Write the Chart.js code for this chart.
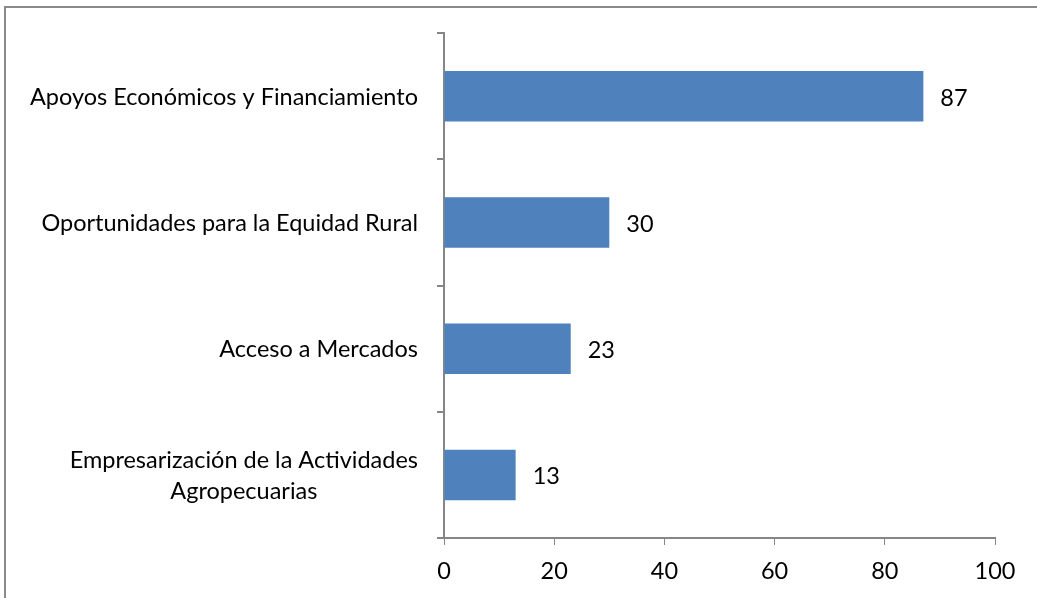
<!DOCTYPE html>
<html>
<head>
<meta charset="utf-8">
<script src="https://cdn.jsdelivr.net/npm/chart.js@4/dist/chart.umd.min.js"></script>
<style>
html,body{margin:0;padding:0;overflow:hidden;background:#fff;}
#wrap{position:relative;width:1037px;height:598px;}
#frame{position:absolute;left:4px;top:6px;width:1200px;height:800px;border:2px solid #8a8a8a;box-sizing:border-box;}
canvas{position:absolute;left:0;top:0;}
</style>
</head>
<body>
<div id="wrap">
<div id="frame"></div>
<canvas id="c" width="1037" height="598"></canvas>
</div>
<script>
const categories = [
  ["Apoyos Económicos y Financiamiento"],
  ["Oportunidades para la Equidad Rural"],
  ["Acceso a Mercados"],
  ["Empresarización de la Actividades", "Agropecuarias"]
];
const values = [87, 30, 23, 13];
const xTicks = [0, 20, 40, 60, 80, 100];

const FONT = "Lato, 'Open Sans', sans-serif";
const FSIZE = 23.5;
const AXIS = '#868686';
const TICKLEN = 7;

const labelPlugin = {
  id: 'labels',
  afterDraw(chart) {
    const ctx = chart.ctx;
    const y = chart.scales.y;
    const area = chart.chartArea;
    const meta = chart.getDatasetMeta(0);
    ctx.save();
    // extend the value axis line left to meet the category ticks
    ctx.strokeStyle = AXIS;
    ctx.lineWidth = 2;
    ctx.beginPath();
    ctx.moveTo(area.left - TICKLEN, area.bottom);
    ctx.lineTo(area.left, area.bottom);
    ctx.stroke();

    ctx.font = FSIZE + 'px ' + FONT;
    ctx.fillStyle = '#000';
    ctx.textBaseline = 'middle';
    // category labels (multi-line labels centred on their widest line, block right-aligned)
    const rightEdge = area.left - 26;
    const lineH = 31;
    categories.forEach((lines, i) => {
      const cy = y.getPixelForValue(i) + 1;
      const widest = Math.max(...lines.map(l => ctx.measureText(l).width));
      const cx = rightEdge - widest / 2;
      ctx.textAlign = 'center';
      const startY = cy - (lines.length - 1) * lineH / 2;
      lines.forEach((l, j) => ctx.fillText(l, cx, startY + j * lineH));
    });
    // data labels
    ctx.textAlign = 'left';
    meta.data.forEach((bar, i) => {
      ctx.fillText(String(values[i]), bar.x + 17, bar.y + 2);
    });
    ctx.restore();
  }
};

new Chart(document.getElementById('c'), {
  type: 'bar',
  data: {
    labels: categories.map(c => c.join(' ')),
    datasets: [{
      data: values,
      backgroundColor: '#4F81BD',
      borderWidth: 0,
      barPercentage: 0.4,
      categoryPercentage: 1.0
    }]
  },
  options: {
    indexAxis: 'y',
    responsive: false,
    animation: false,
    layout: { padding: { top: 33, right: 42, left: 0, bottom: 0 } },
    plugins: { legend: { display: false }, tooltip: { enabled: false } },
    scales: {
      x: {
        min: 0, max: 100,
        afterBuildTicks(scale) { scale.ticks = xTicks.map(v => ({ value: v })); },
        afterFit(scale) { scale.height = 60; },
        grid: { drawOnChartArea: false, color: AXIS, lineWidth: 1, tickLength: TICKLEN },
        border: { color: AXIS, width: 2 },
        ticks: { color: '#000', font: { family: FONT, size: FSIZE }, padding: 12 }
      },
      y: {
        afterFit(scale) { scale.width = 444; },
        grid: { drawOnChartArea: false, offset: true, color: AXIS, lineWidth: 2, tickLength: TICKLEN },
        border: { color: AXIS, width: 2 },
        ticks: { display: false }
      }
    }
  },
  plugins: [labelPlugin]
});
</script>
</body>
</html>
